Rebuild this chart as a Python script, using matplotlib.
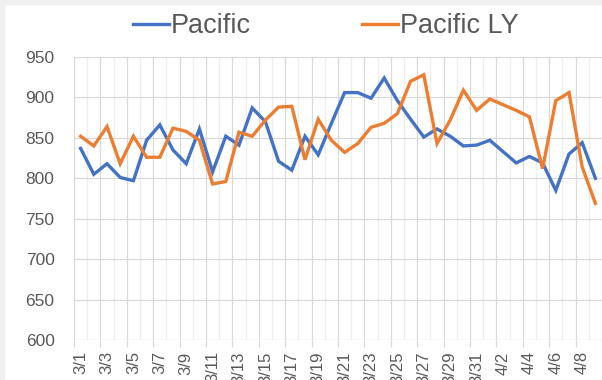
import matplotlib
matplotlib.use("Agg")
import matplotlib.pyplot as plt
from matplotlib.patches import Rectangle

plt.rcParams['font.family'] = ['Liberation Sans', 'DejaVu Sans']

# daily dates, 3/1 through 4/9
dates = ["3/%d" % d for d in range(1, 32)] + ["4/%d" % d for d in range(1, 10)]

pacific = [837, 805, 818, 801, 797, 847, 866, 835, 818, 861,
           808, 852, 841, 887, 870, 821, 810, 852, 829, 868,
           906, 906, 899, 924, 896, 873, 851, 861, 852, 840,
           841, 847, 833, 819, 827, 819, 785, 830, 844, 800]

pacific_ly = [852, 840, 864, 818, 852, 826, 826, 862, 858, 847,
              793, 796, 857, 852, 872, 888, 889, 823, 873, 847,
              832, 843, 863, 868, 880, 920, 928, 843, 872, 909,
              884, 898, 891, 884, 876, 812, 896, 906, 814, 769]

yticks = [600, 650, 700, 750, 800, 850, 900, 950]

txt = "#595959"
x = list(range(len(dates)))

fig = plt.figure(figsize=(6.02, 3.80), dpi=100)
ax = fig.add_axes([74 / 602, 1 - 340 / 380, 1 - 74 / 602, (340 - 57) / 380])

ax.plot(x, pacific, color="#4472C4", lw=2.4, label="Pacific", solid_joinstyle="miter")
ax.plot(x, pacific_ly, color="#ED7D31", lw=2.4, label="Pacific LY", solid_joinstyle="miter")

ax.set_ylim(600, 950)
ax.set_yticks(yticks)
ax.set_xlim(-0.5, 39.05)

# category boundaries: every other one carries a tick mark
ax.set_xticks([i - 0.5 for i in range(0, len(dates) + 1, 2)])
ax.set_xticks([i - 0.5 for i in range(1, len(dates) + 1, 2)], minor=True)
ax.set_xticklabels([])
ax.grid(axis="x", which="major", color="#d9d9d9", lw=0.9)
ax.grid(axis="x", which="minor", color="#eeeeee", lw=0.9)
ax.grid(axis="y", color="#d9d9d9", lw=0.9)
ax.set_axisbelow(True)

for i in range(0, len(dates), 2):
    ax.text(i, -0.04, dates[i], transform=ax.get_xaxis_transform(),
            rotation=90, ha="center", va="top", fontsize=12, color=txt)

for s in ax.spines.values():
    s.set_visible(False)
ax.tick_params(axis="x", which="major", length=5, color="#d9d9d9", width=0.9)
ax.tick_params(axis="x", which="minor", length=0)
ax.tick_params(axis="y", length=0, pad=14, labelsize=12.5, labelcolor=txt)

fig.legend(loc="center", bbox_to_anchor=(326 / 602, 1 - 26 / 380), ncol=2,
           frameon=False, fontsize=19.5, handlelength=1.33, handletextpad=0.07,
           columnspacing=4.1, labelcolor=txt)

# thin grey border along the left and top edges
fig.patches.append(Rectangle((0, 0), 4 / 602, 1, transform=fig.transFigure,
                             color="#efefef", zorder=-1))
fig.patches.append(Rectangle((0, 1 - 4 / 380), 1, 4 / 380, transform=fig.transFigure,
                             color="#efefef", zorder=-1))

fig.savefig("out.png", dpi=100)
